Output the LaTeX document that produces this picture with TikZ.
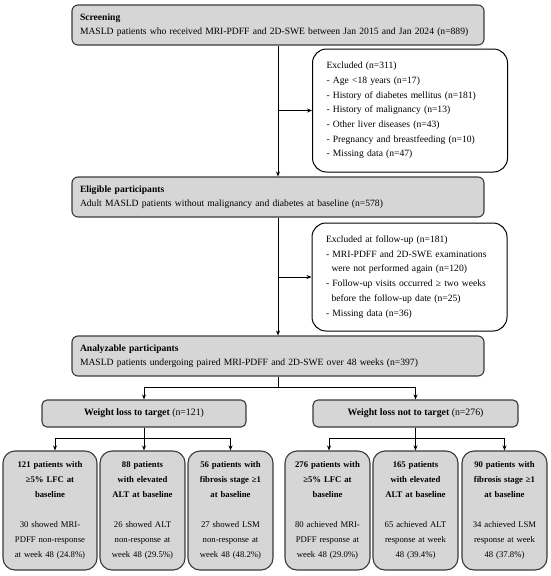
\documentclass[tikz,border=0pt]{standalone}
\usepackage{fontspec}
\setmainfont{Liberation Serif}
\usetikzlibrary{arrows.meta, positioning, calc}
\definecolor{boxgray}{HTML}{D6D6D6}
\definecolor{edge}{HTML}{3A3A3A}

\begin{document}
\begin{tikzpicture}[x=1pt, y=-1pt, >={Stealth[length=5pt, width=4pt]},
  graybox/.style={draw=edge, fill=boxgray, line width=1.1pt, rounded corners=6pt,
    inner xsep=8pt, inner ysep=0pt, text width=396pt, align=left, minimum height=40pt,
    font=\fontsize{9.6}{14}\selectfont},
  exclbox/.style={draw=black, fill=white, line width=1pt, rounded corners=14pt,
    inner xsep=14pt, inner ysep=0pt, text width=167pt, align=left,
    font=\fontsize{9.6}{14.7}\selectfont},
  wlbox/.style={draw=edge, fill=boxgray, line width=1.1pt, rounded corners=5pt,
    minimum width=204pt, minimum height=27pt, inner sep=0pt, font=\fontsize{9.8}{12}\selectfont},
  subbox/.style={draw=edge, fill=boxgray, line width=1.1pt, rounded corners=12pt,
    inner xsep=4pt, inner ysep=0pt, text width=77pt, align=center, minimum height=119pt,
    font=\fontsize{8.7}{15}\selectfont},
  link/.style={draw=black, line width=0.9pt}]

% Frame
\useasboundingbox (0,0) rectangle (550,576);

% Main column
\node[graybox] (screen) at (278,25) {\textbf{Screening}\\MASLD patients who received MRI-PDFF and 2D-SWE between Jan 2015 and Jan 2024 (n=889)};
\node[exclbox, minimum height=123pt] (excl1) at (410,110.5) {Excluded (n=311)\\- Age <18 years (n=17)\\- History of diabetes mellitus (n=181)\\- History of malignancy (n=13)\\- Other liver diseases (n=43)\\- Pregnancy and breastfeeding (n=10)\\- Missing data (n=47)};
\node[graybox] (elig) at (278,197) {\textbf{Eligible participants}\\Adult MASLD patients without malignancy and diabetes at baseline (n=578)};
\node[exclbox, minimum height=108pt] (excl2) at (409.5,277) {Excluded at follow-up (n=181)\\\makebox[\linewidth][s]{- MRI-PDFF and 2D-SWE examinations}\\\hspace*{5.5pt}were not performed again (n=120)\\\makebox[\linewidth][s]{- Follow-up visits occurred ≥ two weeks}\\\hspace*{5.5pt}before the follow-up date (n=25)\\- Missing data (n=36)};
\node[graybox] (anal) at (278,356) {\textbf{Analyzable participants}\\MASLD patients undergoing paired MRI-PDFF and 2D-SWE over 48 weeks (n=397)};

\draw[link, ->] (screen.south) -- (elig.north);
\draw[link, ->] (screen.south |- excl1.west) -- (excl1.west);
\draw[link, ->] (elig.south) -- (anal.north);
\draw[link, ->] (elig.south |- excl2.west) -- (excl2.west);

% Weight loss groups
\node[wlbox] (wl1) at (144,413.5) {\textbf{Weight loss to target} (n=121)};
\node[wlbox, minimum width=205pt] (wl2) at (415.5,413.5) {\textbf{Weight loss not to target} (n=276)};

\draw[link] (anal.south) -- ++(0,11) coordinate (split);
\draw[link, ->] (split) -| (wl1.north);
\draw[link, ->] (split) -| (wl2.north);

% Outcome boxes
\node[subbox, text width=86pt] (b1) at (50,510.5) {\textbf{121 patients with}\\\textbf{≥5\% LFC at}\\\textbf{baseline}\\[15pt]30 showed MRI-\\PDFF non-response\\at week 48 (24.8\%)};
\node[subbox] (b2) at (142.5,510.5) {\textbf{88 patients}\\\textbf{with elevated}\\\textbf{ALT at baseline}\\[15pt]26 showed ALT\\non-response at\\week 48 (29.5\%)};
\node[subbox] (b3) at (230.5,510.5) {\textbf{56 patients with}\\\textbf{fibrosis stage ≥1}\\\textbf{at baseline}\\[15pt]27 showed LSM\\non-response at\\week 48 (48.2\%)};
\node[subbox] (b4) at (327.5,510.5) {\textbf{276 patients with}\\\textbf{≥5\% LFC at}\\\textbf{baseline}\\[15pt]80 achieved MRI-\\PDFF response at\\week 48 (29.0\%)};
\node[subbox] (b5) at (415.5,510.5) {\textbf{165 patients}\\\textbf{with elevated}\\\textbf{ALT at baseline}\\[15pt]65 achieved ALT\\response at week\\48 (39.4\%)};
\node[subbox] (b6) at (504.5,510.5) {\textbf{90 patients with}\\\textbf{fibrosis stage ≥1}\\\textbf{at baseline}\\[15pt]34 achieved LSM\\response at week\\48 (37.8\%)};

\draw[link] (wl1.south) -- ++(0,11) coordinate (splitl);
\draw[link, ->] (splitl) -| ([xshift=5pt]b1.north);
\draw[link, ->] (splitl) -- (splitl |- b2.north);
\draw[link, ->] (splitl) -| (b3.north);
\draw[link] (wl2.south) -- ++(0,11) coordinate (splitr);
\draw[link, ->] (splitr) -| ([xshift=1.5pt]b4.north);
\draw[link, ->] (splitr) -- (splitr |- b5.north);
\draw[link, ->] (splitr) -| (b6.north);

\end{tikzpicture}
\end{document}
